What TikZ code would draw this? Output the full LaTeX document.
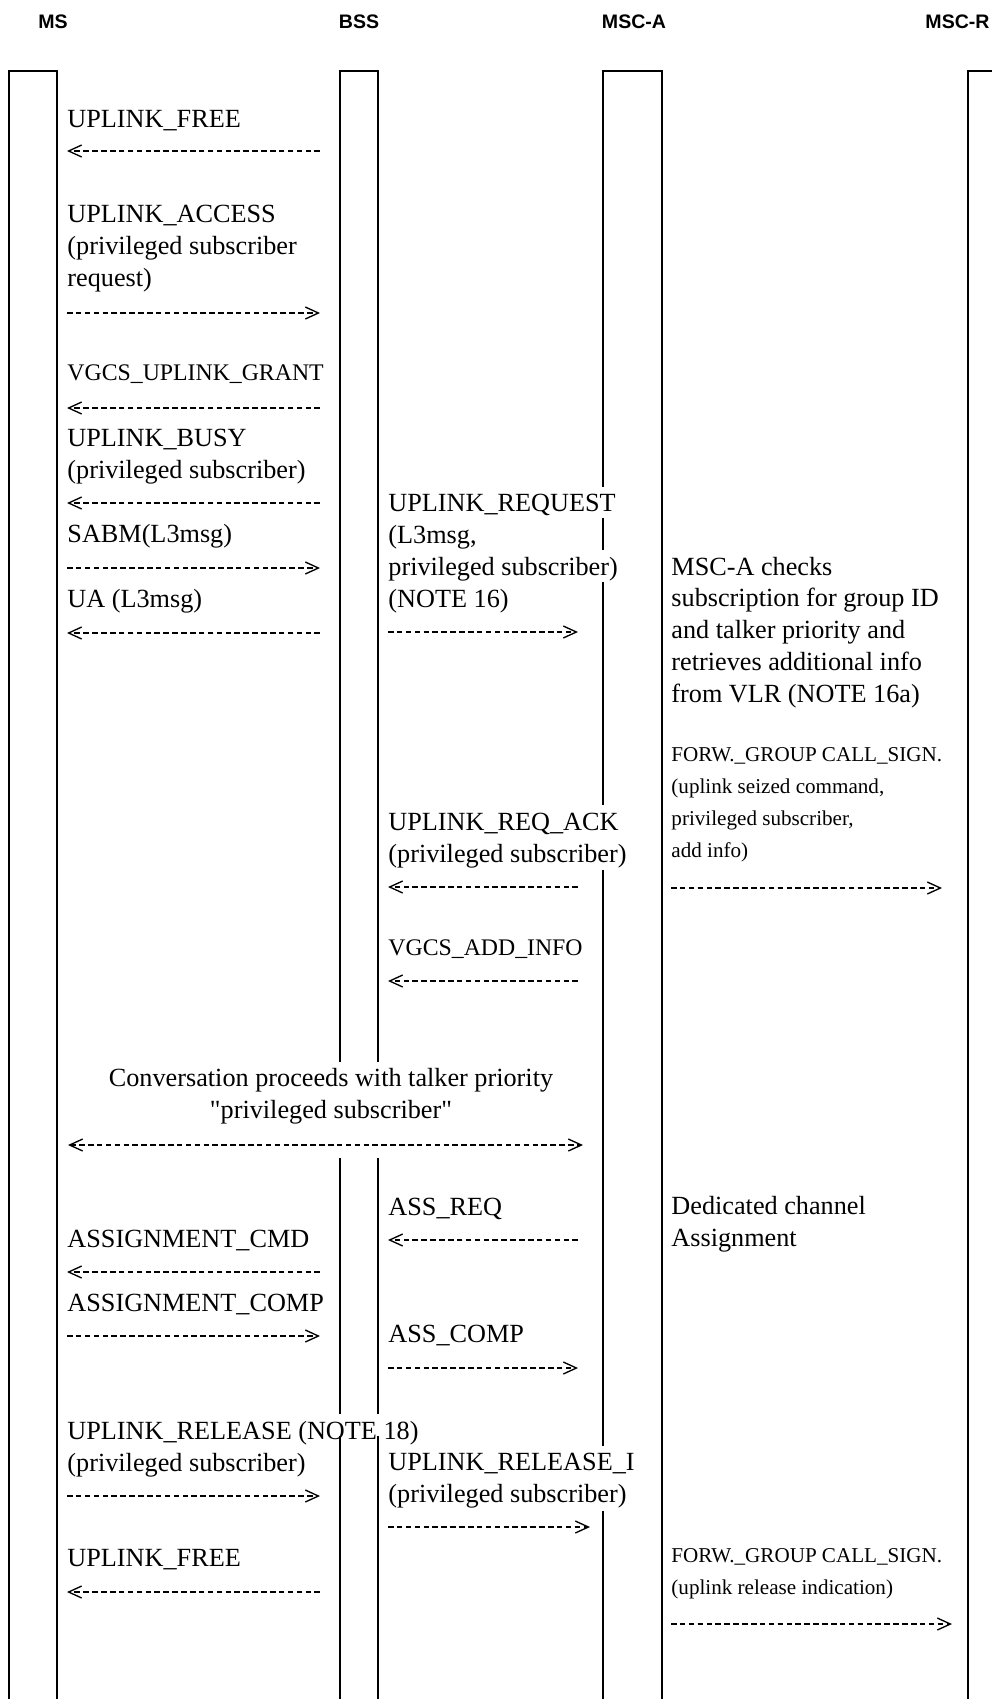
\documentclass[tikz,border=0pt]{standalone}
\usepackage{fontspec}
\setmainfont{Liberation Serif}
\setsansfont{Liberation Sans}
\usetikzlibrary{arrows.meta}
\tikzset{
    life/.style={line width=0.9pt},
    barb/.tip={Straight Barb[length=5.9pt,width=5.4pt,line width=0.6pt]},
    msg/.style={line width=0.6pt, dash pattern=on 2.5pt off 1.5pt, -barb},
    msgboth/.style={msg, barb-barb},
    lbl/.style={anchor=base west, align=left, inner sep=0pt, font=\fontsize{11.8}{14.27}\selectfont},
    lblvgcs/.style={lbl, font=\fontsize{10.7}{14.27}\selectfont},
    lblsmall/.style={lbl, font=\fontsize{9.5}{14.27}\selectfont},
    hdr/.style={anchor=base, inner sep=0pt, font=\sffamily\bfseries\fontsize{8.8}{11}\selectfont}
}

\begin{document}
\begin{tikzpicture}[x=0.45pt, y=-0.45pt]
    \useasboundingbox (0,0) rectangle (992,1699);

    % entities
    \node[hdr] (hMS) at (53,28) {MS};
    \node[hdr] (hBSS) at (359,28) {BSS};
    \node[hdr] (hMSCA) at (634,28) {MSC-A};
    \node[hdr, anchor=base east] (hMSCR) at (990,28) {MSC-R};

    % lifeline boxes, open at the bottom, cut where text runs across
    \draw[life] (9,1699) -- (9,71) -- (57,71) -- (57,1699);
    \draw[life] (340,1062) -- (340,71) -- (378,71) -- (378,1062);
    \draw[life] (340,1158) -- (340,1414) (340,1436) -- (340,1699);
    \draw[life] (378,1158) -- (378,1414) (378,1436) -- (378,1699);
    \draw[life] (603,487) -- (603,71) -- (662,71) -- (662,1699);
    \draw[life] (603,518) -- (603,550) (603,582) -- (603,805)
                (603,870) -- (603,1446) (603,1511) -- (603,1699);
    \draw[life] (968,1699) -- (968,71) -- (992,71);

    % MS - BSS (multi-line nodes sit on their last line)
    \node[lbl] (m1) at (67,127) {UPLINK\_FREE};
    \node[lbl] (m2) at (67,286) {UPLINK\_ACCESS\\(privileged subscriber\\request)};
    \node[lblvgcs] (m3) at (67,380) {VGCS\_UPLINK\_GRANT};
    \node[lbl] (m4) at (67,478) {UPLINK\_BUSY\\(privileged subscriber)};
    \node[lbl] (m5) at (67,542) {SABM(L3msg)};
    \node[lbl] (m6) at (67,607) {UA (L3msg)};
    \node[lbl] (m7) at (67,1247) {ASSIGNMENT\_CMD};
    \node[lbl] (m8) at (67,1311) {ASSIGNMENT\_COMP};
    \node[lbl] (m9) at (67,1471) {UPLINK\_RELEASE (NOTE 18)\\(privileged subscriber)};
    \node[lbl] (m10) at (67,1566) {UPLINK\_FREE};

    % BSS - MSC-A
    \node[lbl] (b1) at (388,607) {UPLINK\_REQUEST\\(L3msg,\\privileged subscriber)\\(NOTE 16)};
    \node[lbl] (b2) at (388,862) {UPLINK\_REQ\_ACK\\(privileged subscriber)};
    \node[lblvgcs] (b3) at (388,955) {VGCS\_ADD\_INFO};
    \node[lbl] (b4) at (388,1215) {ASS\_REQ};
    \node[lbl] (b5) at (388,1342) {ASS\_COMP};
    \node[lbl] (b6) at (388,1502) {UPLINK\_RELEASE\_I\\(privileged subscriber)};

    % MSC-A - MSC-R
    \node[lbl] (a1) at (671,702) {MSC-A checks\\subscription for group ID\\and talker priority and\\retrieves additional info\\from VLR (NOTE 16a)};
    \node[lblsmall] (a2) at (671,857) {FORW.\_GROUP CALL\_SIGN.\\(uplink seized command,\\privileged subscriber,\\add info)};
    \node[lbl] (a3) at (671,1246) {Dedicated channel\\Assignment};
    \node[lblsmall] (a4) at (671,1594) {FORW.\_GROUP CALL\_SIGN.\\(uplink release indication)};

    \node[lbl, anchor=base, align=center] (conv) at (331,1118) {Conversation proceeds with talker priority\\\textquotedbl privileged subscriber\textquotedbl};

    % arrow ends: name/y/left/right
    \foreach \n/\y/\xa/\xb in {f1/151/67/320, a1/313/67/320, g1/408/67/320,
        b1/503/67/320, s1/568/67/320, u1/633/67/320, c1/1272/67/320,
        c2/1336/67/320, r1/1496/67/320, f2/1592/67/320,
        q1/632/388/578, k1/887/388/578, v1/981/388/578, q2/1240/388/578,
        q3/1368/388/578, r2/1527/388/590,
        w1/888/671/942, w2/1624/671/952, cv/1145/68/583}{
        \coordinate (\n-l) at (\xa,\y);
        \coordinate (\n-r) at (\xb,\y);
    }

    \draw[msg] (f1-r) -- (f1-l);
    \draw[msg] (a1-l) -- (a1-r);
    \draw[msg] (g1-r) -- (g1-l);
    \draw[msg] (b1-r) -- (b1-l);
    \draw[msg] (s1-l) -- (s1-r);
    \draw[msg] (u1-r) -- (u1-l);
    \draw[msg] (q1-l) -- (q1-r);
    \draw[msg] (w1-l) -- (w1-r);
    \draw[msg] (k1-r) -- (k1-l);
    \draw[msg] (v1-r) -- (v1-l);
    \draw[msgboth] (cv-l) -- (cv-r);
    \draw[msg] (q2-r) -- (q2-l);
    \draw[msg] (c1-r) -- (c1-l);
    \draw[msg] (c2-l) -- (c2-r);
    \draw[msg] (q3-l) -- (q3-r);
    \draw[msg] (r1-l) -- (r1-r);
    \draw[msg] (r2-l) -- (r2-r);
    \draw[msg] (f2-r) -- (f2-l);
    \draw[msg] (w2-l) -- (w2-r);
\end{tikzpicture}
\end{document}
